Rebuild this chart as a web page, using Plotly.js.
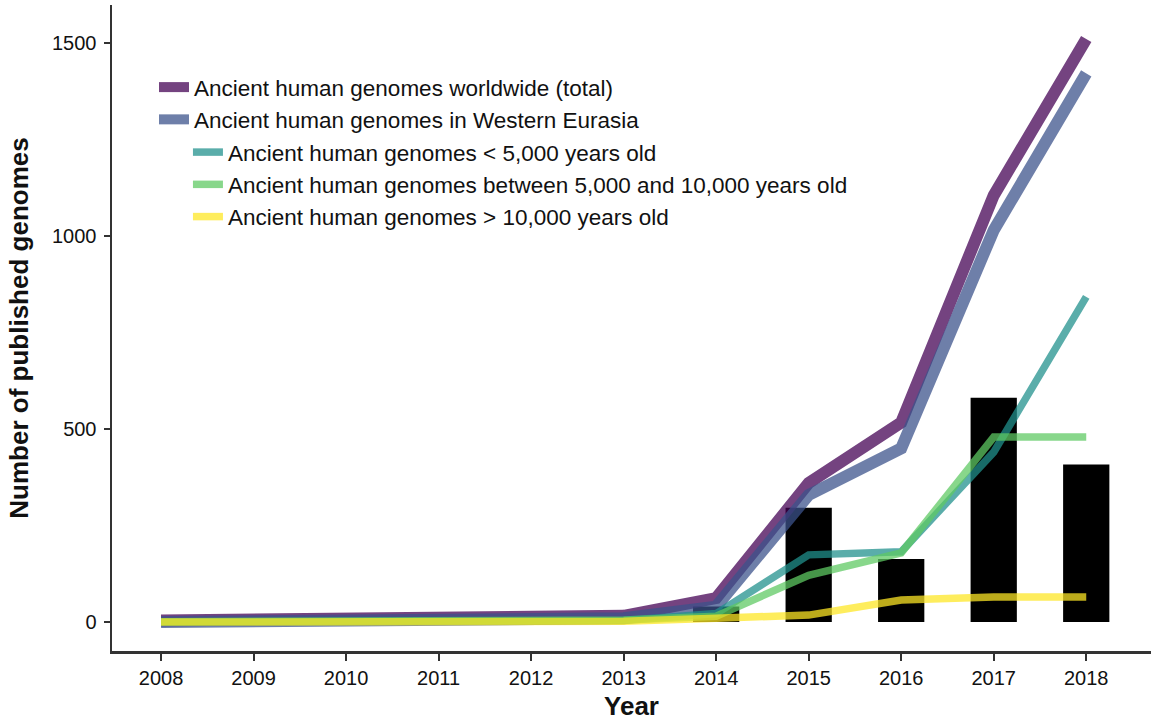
<!DOCTYPE html>
<html>
<head>
<meta charset="utf-8">
<script src="https://cdn.plot.ly/plotly-3.0.1.min.js"></script>
<style>
  html, body { margin: 0; padding: 0; background: #fff; }
  #chart { width: 1151px; height: 721px; }
</style>
</head>
<body>
<div id="chart"></div>
<script>
// ---- Data ----
const years = [2008, 2009, 2010, 2011, 2012, 2013, 2014, 2015, 2016, 2017, 2018];

const worldwideTotal   = [4, 6, 9, 11, 14, 16, 62, 360, 517, 1105, 1510];
const westernEurasia   = [0, 2, 4, 6, 8, 10, 40, 329, 450, 1015, 1421];
const under5000        = [0, 1, 1, 2, 3, 4, 22, 174, 182, 440, 842];
const between5and10k   = [1, 2, 2, 3, 4, 5, 15, 121, 179, 479, 479];
const over10000        = [0, 0, 1, 1, 1, 2, 10, 18, 57, 65, 65];

// new genomes published per year (black bars)
const newPerYear       = [0, 0, 0, 0, 0, 0, 40, 296, 163, 581, 408];

const seriesNames = [
  'Ancient human genomes worldwide (total)',
  'Ancient human genomes in Western Eurasia',
  'Ancient human genomes < 5,000 years old',
  'Ancient human genomes between 5,000 and 10,000 years old',
  'Ancient human genomes > 10,000 years old'
];

const yTickVals = [0, 500, 1000, 1500];
const xTickVals = years;

// ---- Traces ----
const fontFam = '"Liberation Sans", Arial, Helvetica, sans-serif';

const bars = {
  type: 'bar',
  x: years,
  y: newPerYear,
  width: 0.5,
  marker: { color: '#000000', line: { width: 0 } },
  showlegend: false,
  hoverinfo: 'x+y'
};

function lineTrace(y, name, color, width, legendId) {
  return {
    type: 'scatter',
    mode: 'lines',
    x: years,
    y: y,
    name: name,
    line: { color: color, width: width },
    opacity: 0.74,
    legend: legendId
  };
}

const data = [
  bars,
  lineTrace(worldwideTotal, seriesNames[0], '#440154', 12, 'legend'),
  lineTrace(westernEurasia, seriesNames[1], '#3b528b', 12, 'legend'),
  lineTrace(under5000, seriesNames[2], '#21918c', 7.5, 'legend2'),
  lineTrace(between5and10k, seriesNames[3], '#5ec962', 7.5, 'legend2'),
  lineTrace(over10000, seriesNames[4], '#fde725', 7.5, 'legend2')
];

const legendCommon = {
  xref: 'paper', yref: 'paper',
  xanchor: 'left', yanchor: 'top',
  bgcolor: 'rgba(0,0,0,0)',
  borderwidth: 0,
  font: { family: fontFam, size: 22.5, color: '#111' },
  itemwidth: 30,
  traceorder: 'normal'
};

const layout = {
  width: 1151,
  height: 721,
  paper_bgcolor: '#ffffff',
  plot_bgcolor: '#ffffff',
  margin: { l: 112, r: 0, t: 5, b: 70, autoexpand: false },
  font: { family: fontFam, color: '#111' },
  barmode: 'overlay',
  xaxis: {
    range: [2007.47, 2018.7],
    tickmode: 'array',
    tickvals: xTickVals,
    ticktext: xTickVals.map(String),
    tickangle: 0,
    ticks: 'outside',
    ticklen: 7,
    tickwidth: 2,
    tickcolor: '#333',
    showline: true,
    linecolor: '#333',
    linewidth: 2.5,
    showgrid: false,
    zeroline: false,
    tickfont: { family: fontFam, size: 20, color: '#111' },
    title: { text: 'Year', font: { family: fontFam, size: 26, color: '#111', weight: 'bold' }, standoff: 12 }
  },
  yaxis: {
    range: [-75, 1598],
    tickmode: 'array',
    tickvals: yTickVals,
    ticktext: yTickVals.map(String),
    ticks: 'outside',
    ticklen: 6,
    tickwidth: 2,
    tickcolor: '#333',
    showline: true,
    linecolor: '#333',
    linewidth: 2.5,
    showgrid: false,
    zeroline: false,
    ticklabelstandoff: 3,
    tickfont: { family: fontFam, size: 20, color: '#111' },
    title: { text: 'Number of published genomes', font: { family: fontFam, size: 26, color: '#111', weight: 'bold' }, standoff: 16 }
  },
  legend: Object.assign({}, legendCommon, { x: 0.0404, y: 0.9056 }),
  legend2: Object.assign({}, legendCommon, { x: 0.0731, y: 0.805 }),
  showlegend: true
};

Plotly.newPlot('chart', data, layout, { displayModeBar: false, staticPlot: true });
</script>
</body>
</html>
